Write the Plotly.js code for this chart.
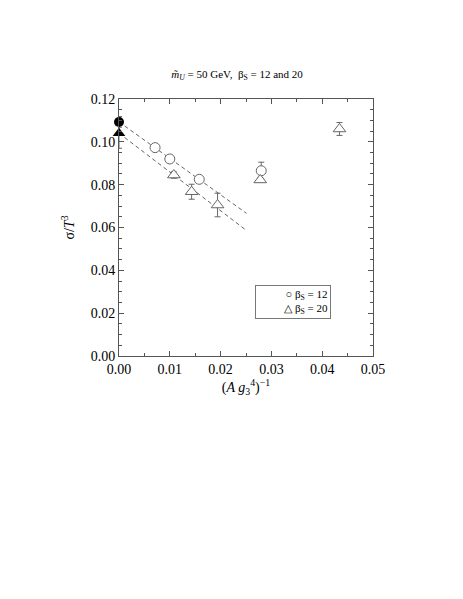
<!DOCTYPE html>
<html>
<head>
<meta charset="utf-8">
<script src="https://cdn.plot.ly/plotly-3.0.1.min.js"></script>
<style>
  html, body { margin: 0; padding: 0; background: #fff; }
  #chart { width: 463px; height: 599px; }
</style>
</head>
<body>
<div id="chart"></div>
<script>
// beta_S = 12 (open circles)
var circX = [0.0071, 0.0100, 0.0158, 0.0280];
var circY = [0.0973, 0.0920, 0.0825, 0.0865];
var circErr = [0.001, 0.001, 0.001, 0.004];

// beta_S = 20 (open triangles)
var triX = [0.0108, 0.0143, 0.0194, 0.0278, 0.0434];
var triY = [0.0845, 0.0767, 0.0705, 0.0822, 0.1060];
var triErr = [0.0015, 0.0035, 0.0055, 0.001, 0.003];

// extrapolated values at (A g3^4)^-1 = 0
var extX = [0];
var extCircY = [0.1093];
var extCircErr = [0.0025];
var extTriY = [0.1040];
var extTriErr = [0.007];

// linear fits
var fitX = [0, 0.0251];
var fit12Y = [0.1093, 0.0666];
var fit20Y = [0.1040, 0.0586];

var legendLabels = ['○ β<sub>S</sub> = 12', '△ β<sub>S</sub> = 20'];

var grey = '#666';
var serif = 'Liberation Serif, Times New Roman, serif';

var fit1 = {
  x: fitX, y: fit12Y, mode: 'lines', type: 'scatter',
  line: { color: grey, width: 1, dash: '4px,3px' }, hoverinfo: 'skip'
};
var fit2 = {
  x: fitX, y: fit20Y, mode: 'lines', type: 'scatter',
  line: { color: grey, width: 1, dash: '4px,3px' }, hoverinfo: 'skip'
};

var trace1 = {
  x: circX, y: circY, mode: 'markers', type: 'scatter',
  marker: { symbol: 'circle', size: 10, color: '#fff', line: { width: 1, color: grey } },
  error_y: { type: 'data', array: circErr, color: grey, thickness: 1, width: 3 }
};

var trace2 = {
  x: triX, y: triY, mode: 'markers', type: 'scatter',
  marker: { symbol: 'triangle-up', size: 11, color: '#fff', line: { width: 1, color: grey } },
  error_y: { type: 'data', array: triErr, color: grey, thickness: 1, width: 3 }
};

var trace3 = {
  x: extX, y: extTriY, mode: 'markers', type: 'scatter',
  marker: { symbol: 'triangle-up', size: 11, color: '#000' },
  error_y: { type: 'data', array: extTriErr, color: grey, thickness: 1, width: 3 },
  cliponaxis: false
};

var trace4 = {
  x: extX, y: extCircY, mode: 'markers', type: 'scatter',
  marker: { symbol: 'circle', size: 10, color: '#000' },
  error_y: { type: 'data', array: extCircErr, color: grey, thickness: 1, width: 3 },
  cliponaxis: false
};

var data = [fit1, fit2, trace1, trace2, trace3, trace4];

var axisStyle = {
  showgrid: false, zeroline: false, showline: true, linecolor: '#555', linewidth: 1,
  mirror: 'ticks', ticks: 'inside', ticklen: 5, tickcolor: '#555',
  tickfont: { family: serif, size: 14, color: '#000' }
};

var layout = {
  width: 463, height: 599,
  margin: { l: 119, r: 90, t: 99, b: 243 },
  paper_bgcolor: '#fff', plot_bgcolor: '#fff',
  font: { family: serif, color: '#000' },
  showlegend: false,
  title: {
    text: '<i>m̃</i><sub><i>U</i></sub> = 50 GeV,  β<sub>S</sub> = 12 and 20',
    font: { family: serif, size: 11, color: '#000' },
    x: 0.465, xanchor: 'center', xref: 'paper', y: 0.876, yanchor: 'middle'
  },
  xaxis: Object.assign({}, axisStyle, {
    range: [0, 0.05], tickvals: [0, 0.01, 0.02, 0.03, 0.04, 0.05],
    ticktext: ['0.00', '0.01', '0.02', '0.03', '0.04', '0.05'],
    minor: { dtick: 0.005, ticks: 'inside', ticklen: 3, tickcolor: '#555' },
    title: { text: '(<i>A g</i><sub>3</sub><sup>4</sup>)<sup>−1</sup>', font: { family: serif, size: 14 }, standoff: 6 }
  }),
  yaxis: Object.assign({}, axisStyle, {
    range: [0, 0.12], tickvals: [0, 0.02, 0.04, 0.06, 0.08, 0.10, 0.12],
    ticktext: ['0.00', '0.02', '0.04', '0.06', '0.08', '0.10', '0.12'],
    minor: { dtick: 0.005, ticks: 'inside', ticklen: 3, tickcolor: '#555' },
    title: { text: 'σ/<i>T</i><sup>3</sup>', font: { family: serif, size: 14 }, standoff: 12 }
  }),
  annotations: [{
    xref: 'paper', yref: 'paper', x: 0.687, y: 0.210,
    xanchor: 'center', yanchor: 'middle', showarrow: false,
    text: legendLabels.join('<br>'), align: 'right',
    width: 70, height: 28, borderpad: 2,
    bordercolor: '#777', borderwidth: 1, bgcolor: '#fff',
    font: { family: serif, size: 11, color: '#000' }
  }]
};

Plotly.newPlot('chart', data, layout, { staticPlot: true });
</script>
</body>
</html>
